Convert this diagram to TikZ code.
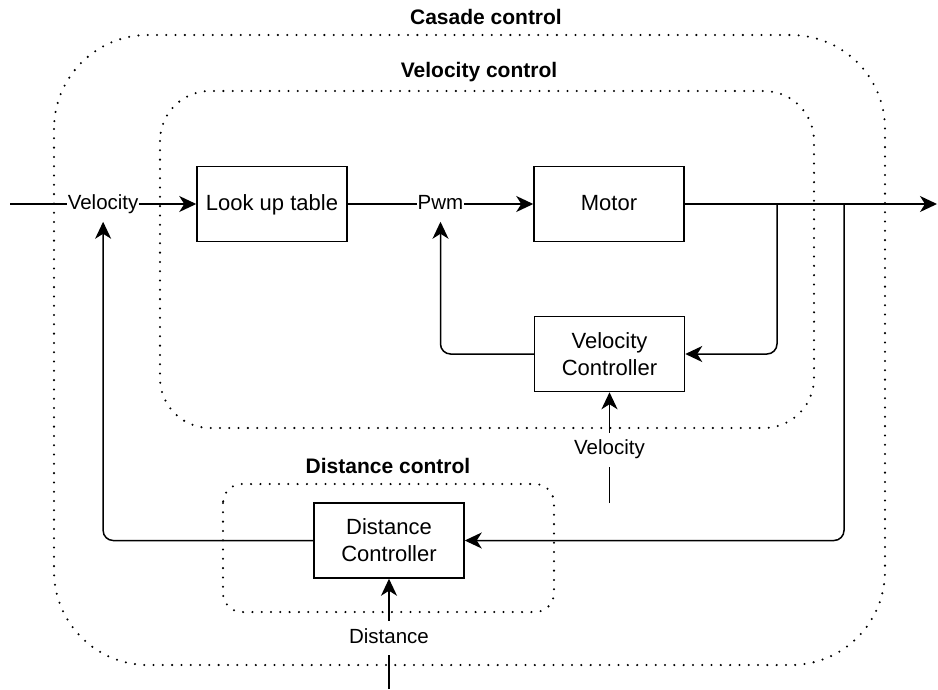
\documentclass[tikz,border=0pt]{standalone}
\usepackage{fontspec}
\setmainfont{Liberation Sans}
\usetikzlibrary{arrows.meta}

\tikzset{
  block/.style={draw, line width=1.5pt, fill=white, minimum width=150pt,
    minimum height=75pt, align=center, inner sep=2pt,
    font=\fontsize{22}{27}\selectfont},
  oneline/.style={text height=16pt, text depth=3pt},
  group/.style={line width=2.3pt, line cap=round, dash pattern=on 0pt off 9.3pt},
  grouptitle/.style={font=\fontsize{21}{25}\selectfont\bfseries},
  elabel/.style={fill=white, font=\fontsize{20.5}{24}\selectfont, inner xsep=1pt,
    inner ysep=8pt, text height=14pt, text depth=4pt},
  wire/.style={line width=1.5pt},
  flow/.style={wire, -{Stealth[length=17pt,width=16pt,inset=5pt]}},
  loop/.style={flow, rounded corners=10pt},
}

\begin{document}
\begin{tikzpicture}[x=1pt, y=-1pt]
  % canvas
  \fill[white] (0,0) rectangle (938,689);
  \useasboundingbox (0,0) rectangle (938,689);

  % dotted group frames
  \draw[group, rounded corners=94pt] (54,35) rectangle (885,665);
  \draw[group, rounded corners=50pt] (160,91) rectangle (814,428);
  \draw[group, rounded corners=19pt] (223,484) rectangle (554,612);

  \node[grouptitle] (tcascade)  at (486,17)  {Casade control};
  \node[grouptitle] (tvelocity) at (479,72)  {Velocity control};
  \node[grouptitle] (tdistance) at (388,466) {Distance control};

  % blocks
  \node[block, oneline] (lut)   at (272,204)   {Look up table};
  \node[block, oneline] (motor) at (609,204)   {Motor};
  \node[block] (vc)    at (609.5,354) {Velocity\\Controller};
  \node[block] (dc)    at (389,540.5) {Distance\\Controller};

  % free ends and branch points
  \coordinate (in)   at (10,204);
  \coordinate (out)  at (937,204);
  \coordinate (b1)   at (777,204);
  \coordinate (b2)   at (844,204);
  \coordinate (vref) at (609.5,503);
  \coordinate (dref) at (389,689);

  % forward path
  \draw[flow] (in) -- node[elabel] (vlab) {Velocity} (lut.west);
  \draw[flow] (lut.east) -- node[elabel] (pwm) {Pwm} (motor.west);
  \draw[flow] (motor.east) -- (out);

  % inner velocity loop
  \draw[loop] (b1) |- (vc.east);
  \draw[loop] (vc.west) -| (pwm.south);
  \draw[flow] (vref) -- node[elabel, pos=0.48] (vin) {Velocity} (vc.south);

  % outer distance loop
  \draw[loop] (b2) |- (dc.east);
  \draw[loop] (dc.west) -| (vlab.south);
  \draw[flow] (dref) -- node[elabel, pos=0.46] (din) {Distance} (dc.south);
\end{tikzpicture}
\end{document}
